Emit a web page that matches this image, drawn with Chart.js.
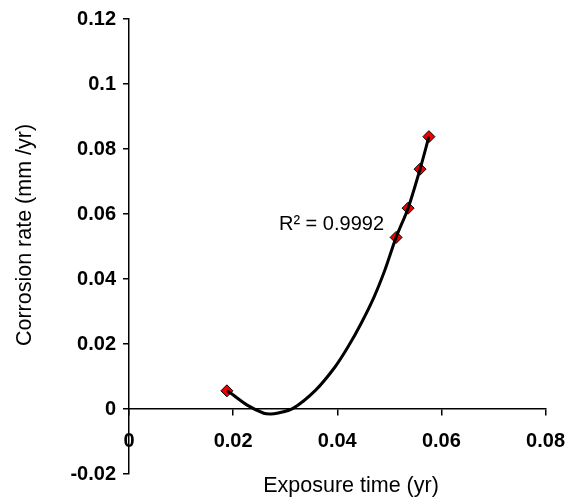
<!DOCTYPE html>
<html>
<head>
<meta charset="utf-8">
<script src="https://cdn.jsdelivr.net/npm/chart.js@4.4.1/dist/chart.umd.min.js"></script>
<style>
body { margin: 0; background: #fff; }
#wrap { width: 579px; height: 499px; }
</style>
</head>
<body>
<div id="wrap"><canvas id="myChart" width="579" height="499"></canvas></div>
<script>
// measured points (exposure time in yr, corrosion rate in mm/yr)
var timeYr = [0.0188, 0.0513, 0.0536, 0.0559, 0.0576];
var rateMm = [0.0056, 0.0528, 0.0618, 0.0738, 0.0838];

// trendline
var trendX = [0.0188, 0.0195, 0.0227, 0.0259, 0.0272, 0.0284, 0.0315, 0.0359, 0.0396, 0.0421, 0.0446, 0.0471, 0.0492, 0.0513, 0.0536, 0.0559, 0.0576];
var trendY = [0.0056, 0.0049, 0.0012, -0.0013, -0.0015, -0.0013, 0.0002, 0.0059, 0.0130, 0.0192, 0.0264, 0.0346, 0.0430, 0.0528, 0.0618, 0.0738, 0.0838];

var xTitle = 'Exposure time (yr)';
var yTitle = 'Corrosion rate (mm /yr)';
var r2Text = 'R\u00b2 = 0.9992';
var r2At = [0.0288, 0.0551];

var FONT = '"Liberation Sans", Arial, sans-serif';

function toPoints(xs, ys) {
    var out = [];
    for (var i = 0; i < xs.length; i++) {
        out.push({x: xs[i], y: ys[i]});
    }
    return out;
}

function fmt(v) {
    return String(+Number(v).toFixed(4));
}

var textPlugin = {
    id: 'texts',
    afterDraw: function(chart) {
        var ctx = chart.ctx;
        var xs = chart.scales.x, ys = chart.scales.y;
        ctx.save();
        ctx.fillStyle = '#000';
        ctx.font = '21.5px ' + FONT;
        ctx.textAlign = 'center';
        ctx.textBaseline = 'alphabetic';
        ctx.fillText(xTitle, 351, 492);
        ctx.save();
        ctx.translate(31, 235);
        ctx.rotate(-Math.PI / 2);
        ctx.fillText(yTitle, 0, 0);
        ctx.restore();
        // R squared label
        ctx.font = '20px ' + FONT;
        ctx.textAlign = 'left';
        ctx.fillText(r2Text, xs.getPixelForValue(r2At[0]), ys.getPixelForValue(r2At[1]));
        ctx.restore();
    }
};

var ctx = document.getElementById('myChart').getContext('2d');
var myChart = new Chart(ctx, {
    type: 'scatter',
    data: {
        datasets: [{
            label: 'trend',
            data: toPoints(trendX, trendY),
            showLine: true,
            pointRadius: 0,
            borderColor: '#000',
            borderWidth: 3,
            tension: 0.3,
            fill: false,
            order: 0
        }, {
            label: 'measured',
            data: toPoints(timeYr, rateMm),
            pointStyle: 'rectRot',
            pointRadius: 6,
            backgroundColor: '#ee0000',
            borderColor: '#000',
            borderWidth: 1,
            order: 1
        }]
    },
    options: {
        responsive: false,
        animation: false,
        layout: { padding: { left: 0, top: 19, right: 24, bottom: 25 } },
        plugins: {
            legend: { display: false },
            tooltip: { enabled: false }
        },
        scales: {
            x: {
                type: 'linear',
                position: { y: 0 },
                min: 0,
                max: 0.08,
                ticks: {
                    stepSize: 0.02,
                    padding: 14,
                    color: '#000',
                    font: { family: FONT, size: 20, weight: 'bold' },
                    callback: fmt
                },
                grid: { drawOnChartArea: false, drawTicks: true, tickLength: 6, color: '#000', lineWidth: 1.5 },
                border: { display: true, color: '#000', width: 1.5 }
            },
            y: {
                type: 'linear',
                position: 'left',
                min: -0.02,
                max: 0.12,
                ticks: {
                    stepSize: 0.02,
                    padding: 7,
                    color: '#000',
                    font: { family: FONT, size: 20, weight: 'bold' },
                    callback: fmt
                },
                grid: { drawOnChartArea: false, drawTicks: true, tickLength: 6, color: '#000', lineWidth: 1.5 },
                border: { display: true, color: '#000', width: 1.5 },
                afterFit: function(scale) { scale.width = 129; }
            }
        }
    },
    plugins: [textPlugin]
});
</script>
</body>
</html>
